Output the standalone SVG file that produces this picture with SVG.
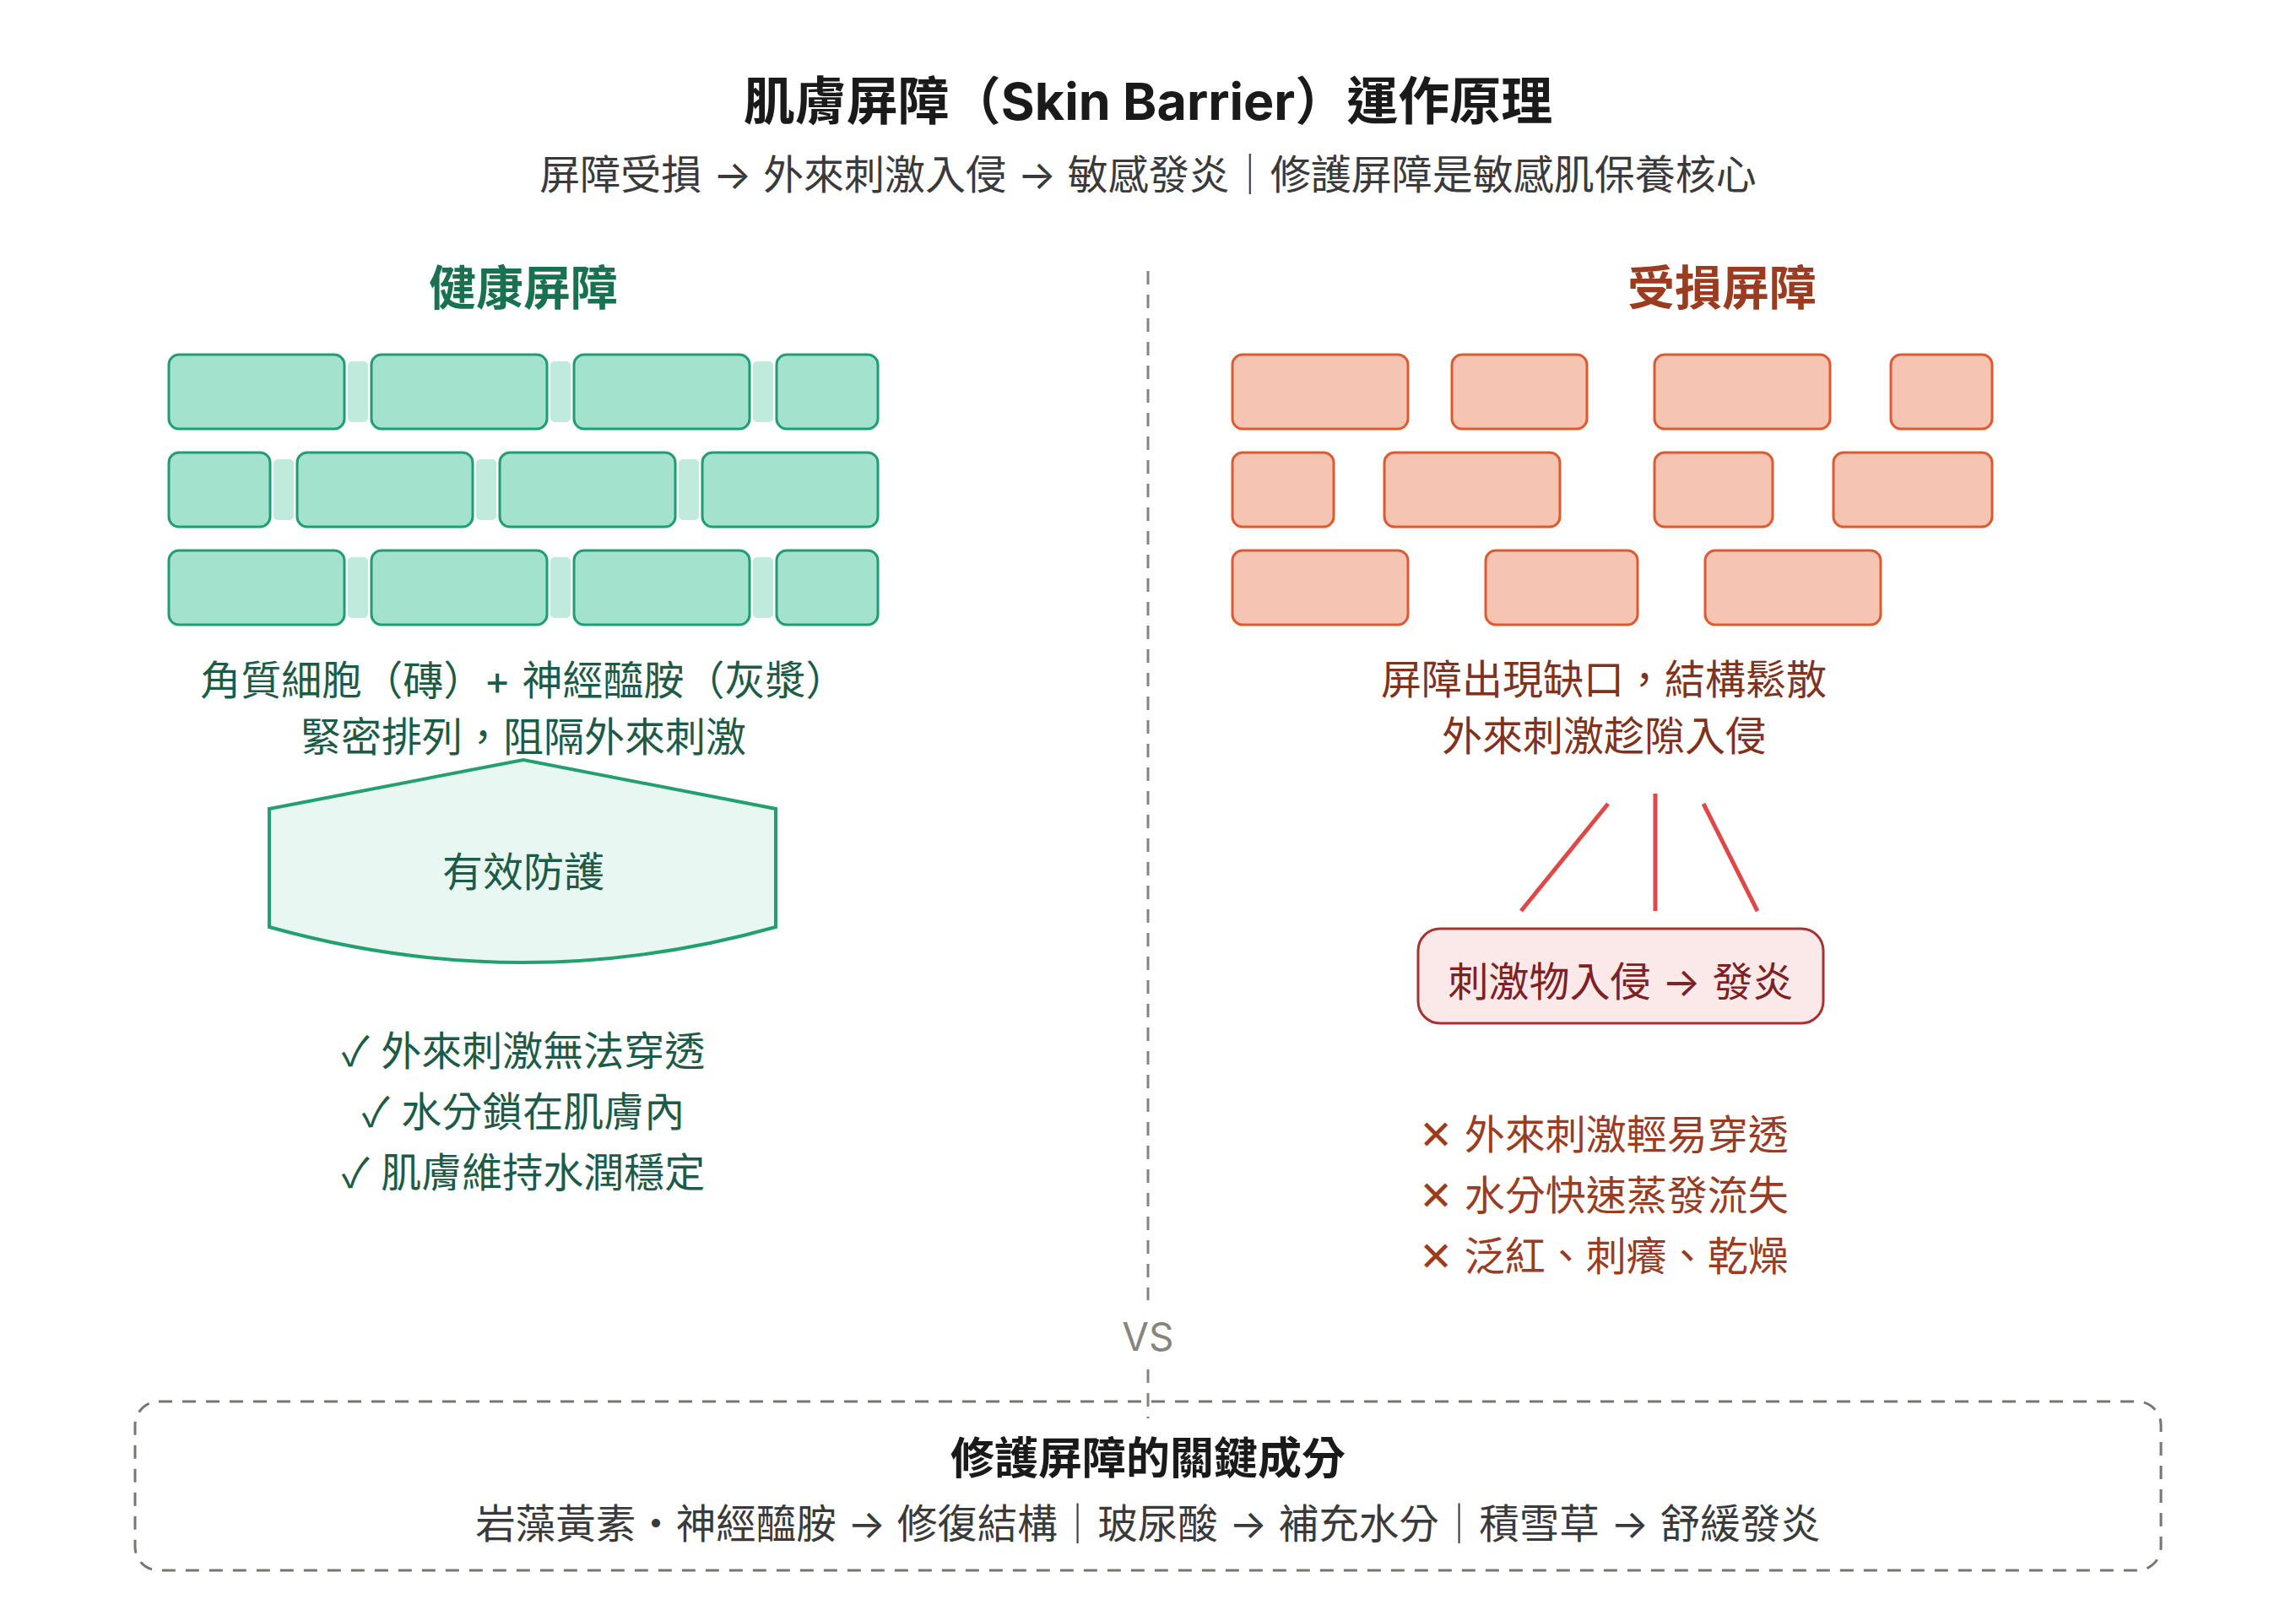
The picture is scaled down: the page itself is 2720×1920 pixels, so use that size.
<svg xmlns="http://www.w3.org/2000/svg" width="2720" height="1920" viewBox="0 0 2720 1920">
<style>
text{font-family:Inter,"Noto Sans CJK TC","Noto Sans",sans-serif;text-anchor:middle}
.title{font-size:61px;font-weight:700;fill:#1a1a1a}
.sub{font-size:48px;fill:#3a3a3a}
.h-green{font-size:56px;font-weight:700;fill:#18714f}
.h-red{font-size:56px;font-weight:700;fill:#9b3b1f}
.g{font-size:48px;fill:#1c5c46}
.r{font-size:48px;fill:#80321c}
.rl{font-size:48px;fill:#9b3b1f}
.sym{font-family:"Noto Sans CJK TC","DejaVu Sans",sans-serif}
.xsym{font-family:"DejaVu Sans",sans-serif;font-weight:200}
.brick{fill:#a3e2cc;stroke:#1f9e6f;stroke-width:3}
.mortar{fill:#c0ebdc}
.dbrick{fill:#f5c4b3;stroke:#e05a30;stroke-width:3}
.ray{stroke:#e04848;stroke-width:5;fill:none}
.divider{stroke:#85857d;stroke-width:3;stroke-dasharray:16 12;fill:none}
</style>

<g id="header">
<text class="title" x="1360" y="142">肌膚屏障（Skin Barrier）運作原理</text>
<text class="sub" x="1360" y="224">屏障受損 → 外來刺激入侵 → 敏感發炎｜修護屏障是敏感肌保養核心</text>
</g>

<g id="healthy-title"><text class="h-green" x="620" y="361">健康屏障</text></g>
<g id="damaged-title"><text class="h-red" x="2040" y="361">受損屏障</text></g>

<g id="healthy-wall">
<rect class="mortar" x="412" y="428" width="24" height="72" rx="5"/>
<rect class="mortar" x="652" y="428" width="24" height="72" rx="5"/>
<rect class="mortar" x="892" y="428" width="24" height="72" rx="5"/>
<rect class="mortar" x="324" y="544" width="24" height="72" rx="5"/>
<rect class="mortar" x="564" y="544" width="24" height="72" rx="5"/>
<rect class="mortar" x="804" y="544" width="24" height="72" rx="5"/>
<rect class="mortar" x="412" y="660" width="24" height="72" rx="5"/>
<rect class="mortar" x="652" y="660" width="24" height="72" rx="5"/>
<rect class="mortar" x="892" y="660" width="24" height="72" rx="5"/>
<rect class="brick" x="200" y="420" width="208" height="88" rx="12"/>
<rect class="brick" x="440" y="420" width="208" height="88" rx="12"/>
<rect class="brick" x="680" y="420" width="208" height="88" rx="12"/>
<rect class="brick" x="920" y="420" width="120" height="88" rx="12"/>
<rect class="brick" x="200" y="536" width="120" height="88" rx="12"/>
<rect class="brick" x="352" y="536" width="208" height="88" rx="12"/>
<rect class="brick" x="592" y="536" width="208" height="88" rx="12"/>
<rect class="brick" x="832" y="536" width="208" height="88" rx="12"/>
<rect class="brick" x="200" y="652" width="208" height="88" rx="12"/>
<rect class="brick" x="440" y="652" width="208" height="88" rx="12"/>
<rect class="brick" x="680" y="652" width="208" height="88" rx="12"/>
<rect class="brick" x="920" y="652" width="120" height="88" rx="12"/>
</g>

<g id="damaged-wall">
<rect class="dbrick" x="1460" y="420" width="208" height="88" rx="12"/>
<rect class="dbrick" x="1720" y="420" width="160" height="88" rx="12"/>
<rect class="dbrick" x="1960" y="420" width="208" height="88" rx="12"/>
<rect class="dbrick" x="2240" y="420" width="120" height="88" rx="12"/>
<rect class="dbrick" x="1460" y="536" width="120" height="88" rx="12"/>
<rect class="dbrick" x="1640" y="536" width="208" height="88" rx="12"/>
<rect class="dbrick" x="1960" y="536" width="140" height="88" rx="12"/>
<rect class="dbrick" x="2172" y="536" width="188" height="88" rx="12"/>
<rect class="dbrick" x="1460" y="652" width="208" height="88" rx="12"/>
<rect class="dbrick" x="1760" y="652" width="180" height="88" rx="12"/>
<rect class="dbrick" x="2020" y="652" width="208" height="88" rx="12"/>
</g>

<g id="healthy-desc">
<text class="g" x="620" y="823">角質細胞（磚）+ 神經醯胺（灰漿）</text>
<text class="g" x="620" y="890">緊密排列，阻隔外來刺激</text>
</g>

<g id="shield">
<path d="M319,958 L620,900 L919,958 L919,1098 Q620,1182 319,1098 Z" fill="#e8f7f1" stroke="#22a06f" stroke-width="4"/>
<text class="g" x="620" y="1050">有效防護</text>
</g>

<g id="healthy-list">
<text class="g" x="620" y="1262"><tspan class="sym">✓</tspan> 外來刺激無法穿透</text>
<text class="g" x="620" y="1334"><tspan class="sym">✓</tspan> 水分鎖在肌膚內</text>
<text class="g" x="620" y="1406"><tspan class="sym">✓</tspan> 肌膚維持水潤穩定</text>
</g>

<g id="damaged-desc">
<text class="r" x="1900" y="822">屏障出現缺口，結構鬆散</text>
<text class="r" x="1900" y="889">外來刺激趁隙入侵</text>
</g>

<g id="connectors">
<line class="ray" x1="1905" y1="952" x2="1802" y2="1079"/>
<line class="ray" x1="1961" y1="940" x2="1961" y2="1079"/>
<line class="ray" x1="2018" y1="952" x2="2082" y2="1079"/>
<line class="divider" x1="1360" y1="321" x2="1360" y2="1540"/>
<line class="divider" x1="1360" y1="1622" x2="1360" y2="1680"/>
</g>

<g id="inflammation">
<rect x="1680" y="1100" width="480" height="112" rx="26" fill="#fbe9e9" stroke="#a83232" stroke-width="3"/>
<text x="1920" y="1180" style="font-size:48px;fill:#7d2125">刺激物入侵 → 發炎</text>
</g>

<g id="damaged-list">
<text class="rl" x="1900" y="1361"><tspan class="xsym">✕</tspan> 外來刺激輕易穿透</text>
<text class="rl" x="1900" y="1433"><tspan class="xsym">✕</tspan> 水分快速蒸發流失</text>
<text class="rl" x="1900" y="1505"><tspan class="xsym">✕</tspan> 泛紅、刺癢、乾燥</text>
</g>

<g id="vs"><text x="1360" y="1600" style="font-size:46px;fill:#85857d">VS</text></g>

<g id="ingredients">
<rect x="160" y="1660" width="2400" height="200" rx="28" fill="none" stroke="#77776f" stroke-width="3" stroke-dasharray="16 12"/>
<text x="1360" y="1746" style="font-size:52px;font-weight:700;fill:#1a1a1a">修護屏障的關鍵成分</text>
<text class="sub" x="1360" y="1822" style="font-size:47.5px">岩藻黃素・神經醯胺 → 修復結構｜玻尿酸 → 補充水分｜積雪草 → 舒緩發炎</text>
</g>
</svg>
